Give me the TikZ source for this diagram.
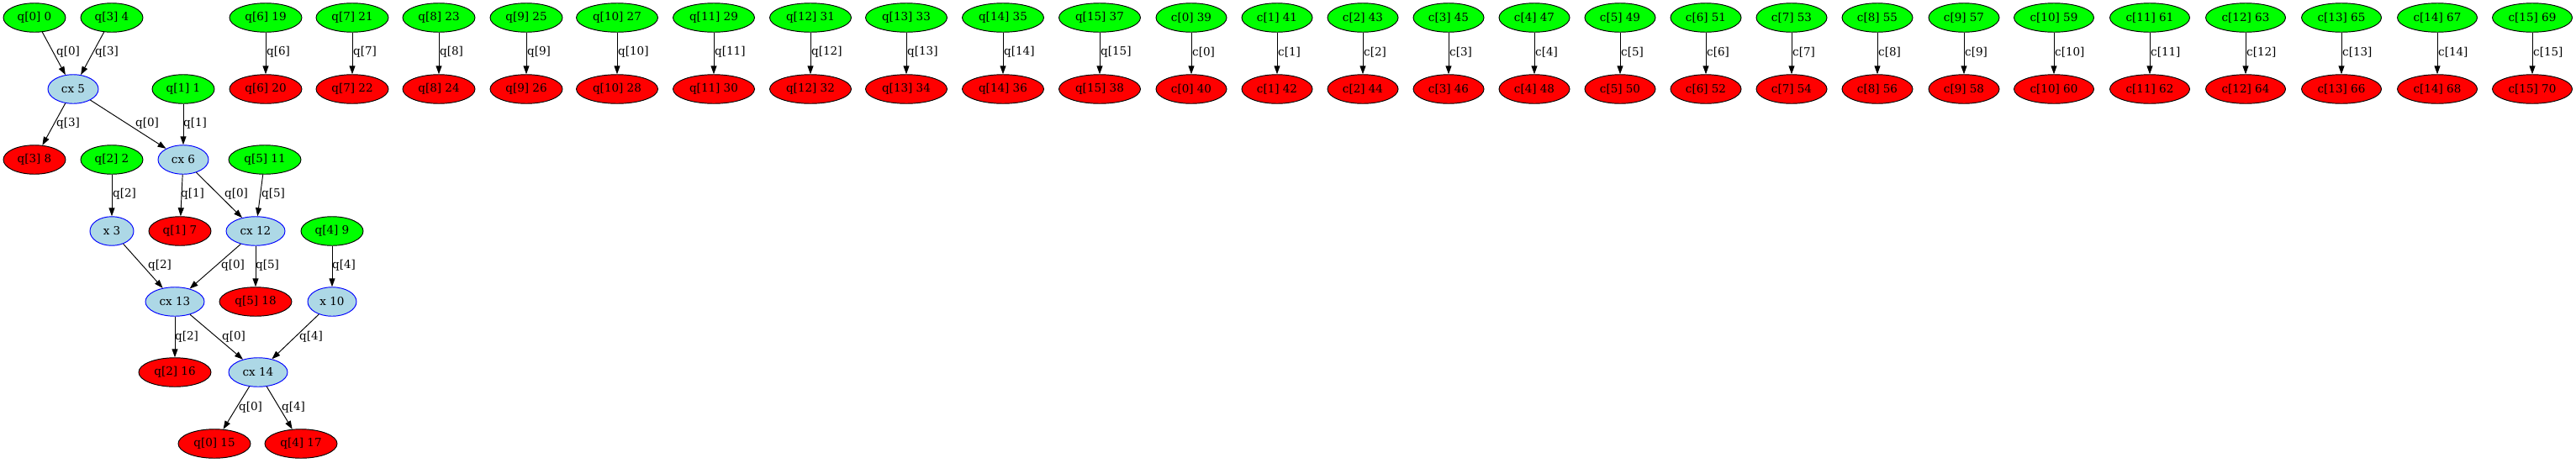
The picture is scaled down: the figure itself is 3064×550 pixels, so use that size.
\documentclass[tikz,border=0pt]{standalone}
\usepackage{fontspec}
\setmainfont{DejaVu Serif}
\usetikzlibrary{arrows.meta,shapes.geometric}
\definecolor{gvgreen}{RGB}{0,255,0}
\definecolor{gvred}{RGB}{255,0,0}
\definecolor{gvlblue}{RGB}{173,216,230}
\definecolor{gvblue}{RGB}{0,0,255}
\begin{document}
\begin{tikzpicture}[x=1pt,y=-1pt,
  nd/.style={ellipse, inner sep=0pt, minimum height=34.5pt, minimum width=#1, line width=0.95pt, font=\fontsize{13.5}{16}\selectfont},
  inq/.style={nd=#1, draw=black, fill=gvgreen},
  outq/.style={nd=#1, draw=black, fill=gvred},
  gate/.style={nd=#1, draw=gvblue, fill=gvlblue},
  conn/.style={draw, line width=0.95pt, -{Triangle[length=10pt,width=7pt]}},
  lbl/.style={font=\fontsize{13.5}{16}\selectfont, inner sep=0pt},
]
\useasboundingbox (0,0) rectangle (3064,550);

% ---- circuit part ----
\node[inq=74]  (q0)   at (41,21)  {q[0] 0};
\node[inq=74]  (q3)   at (133,21) {q[3] 4};
\node[gate=60] (cx5)  at (87,106) {cx 5};
\node[inq=74]  (q1)   at (218,106) {q[1] 1};
\node[outq=74] (q3o)  at (41,190) {q[3] 8};
\node[inq=74]  (q2)   at (133,190) {q[2] 2};
\node[gate=60] (cx6)  at (218,190) {cx 6};
\node[inq=86]  (q5)   at (315,190) {q[5] 11};
\node[gate=52] (x3)   at (133,275) {x 3};
\node[outq=74] (q1o)  at (214,275) {q[1] 7};
\node[gate=70] (cx12) at (304,275) {cx 12};
\node[inq=74]  (q4)   at (395,275) {q[4] 9};
\node[gate=70] (cx13) at (208,359) {cx 13};
\node[outq=86] (q5o)  at (304,359) {q[5] 18};
\node[gate=58] (x10)  at (395,359) {x 10};
\node[outq=86] (q2o)  at (208,443) {q[2] 16};
\node[gate=70] (cx14) at (307,443) {cx 14};
\node[outq=86] (q0o)  at (255,528) {q[0] 15};
\node[outq=86] (q4o)  at (358,528) {q[4] 17};

\draw[conn] (q0) -- (cx5);
\draw[conn] (q3) -- (cx5);
\draw[conn] (cx5) -- (q3o);
\draw[conn] (cx5) -- (cx6);
\draw[conn] (q1) -- (cx6);
\draw[conn] (q2) -- (x3);
\draw[conn] (cx6) -- (q1o);
\draw[conn] (cx6) -- (cx12);
\draw[conn] (q5) -- (cx12);
\draw[conn] (x3) -- (cx13);
\draw[conn] (cx12) -- (cx13);
\draw[conn] (cx12) -- (q5o);
\draw[conn] (q4) -- (x10);
\draw[conn] (cx13) -- (q2o);
\draw[conn] (cx13) -- (cx14);
\draw[conn] (x10) -- (cx14);
\draw[conn] (cx14) -- (q0o);
\draw[conn] (cx14) -- (q4o);

\node[lbl] (l1)  at (81,62)   {q[0]};
\node[lbl] (l2)  at (127,62)  {q[3]};
\node[lbl] (l3)  at (81,147)  {q[3]};
\node[lbl] (l4)  at (175,147) {q[0]};
\node[lbl] (l5)  at (232,147) {q[1]};
\node[lbl] (l6)  at (148,231) {q[2]};
\node[lbl] (l7)  at (229,231) {q[1]};
\node[lbl] (l8)  at (281,231) {q[0]};
\node[lbl] (l9)  at (325,231) {q[5]};
\node[lbl] (l10) at (190,316) {q[2]};
\node[lbl] (l11) at (277,316) {q[0]};
\node[lbl] (l12) at (318,316) {q[5]};
\node[lbl] (l13) at (409,316) {q[4]};
\node[lbl] (l14) at (222,401) {q[2]};
\node[lbl] (l15) at (278,401) {q[0]};
\node[lbl] (l16) at (370,401) {q[4]};
\node[lbl] (l17) at (298,485) {q[0]};
\node[lbl] (l18) at (349,485) {q[4]};

% ---- idle qubits ----
\foreach \x/\i/\n in {316/6/19, 419/7/21, 522/8/23, 626/9/25, 734/10/27, 849/11/29, 964/12/31, 1078/13/33, 1193/14/35, 1308/15/37}{
  \pgfmathtruncatemacro{\m}{\n+1}
  \pgfmathsetmacro{\w}{\i<10 ? 86 : 97}
  \node[inq=\w pt]  (qt\i) at (\x,21)  {q[\i] \n};
  \node[outq=\w pt] (qb\i) at (\x,106) {q[\i] \m};
  \draw[conn] (qt\i) -- (qb\i);
  \node[lbl, anchor=west] (ql\i) at (\x+1,62) {q[\i]};
}
% ---- classical bits ----
\foreach \x/\i/\n in {1417/0/39, 1519/1/41, 1621/2/43, 1723/3/45, 1825/4/47, 1927/5/49, 2029/6/51, 2131/7/53, 2233/8/55, 2336/9/57, 2443/10/59, 2557/11/61, 2671/12/63, 2785/13/65, 2899/14/67, 3012/15/69}{
  \pgfmathtruncatemacro{\m}{\n+1}
  \pgfmathsetmacro{\w}{\i<10 ? 84 : 95}
  \node[inq=\w pt]  (ct\i) at (\x,21)  {c[\i] \n};
  \node[outq=\w pt] (cb\i) at (\x,106) {c[\i] \m};
  \draw[conn] (ct\i) -- (cb\i);
  \node[lbl, anchor=west] (cl\i) at (\x+1,62) {c[\i]};
}
\end{tikzpicture}
\end{document}
